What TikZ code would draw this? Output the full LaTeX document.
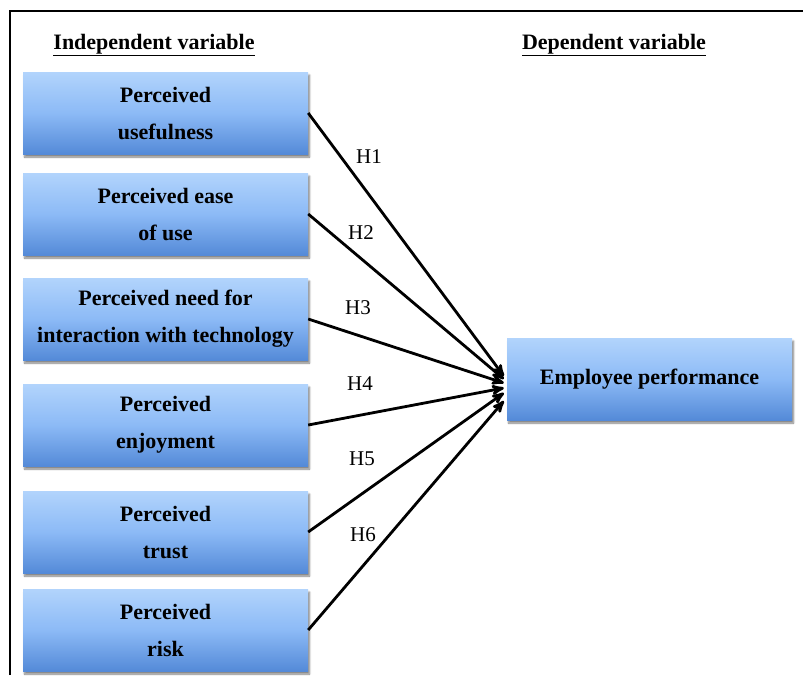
\documentclass[tikz,border=0pt]{standalone}
\usepackage{fontspec}
\setmainfont{Liberation Serif}
\usetikzlibrary{arrows,calc,shadows.blur}
\definecolor{boxtop}{RGB}{178,212,252}
\definecolor{boxmid}{RGB}{140,186,246}
\definecolor{boxbottom}{RGB}{84,138,216}

\begin{document}
\begin{tikzpicture}[x=1pt, y=-1pt, >=stealth']
    \tikzset{var node/.style={rectangle, minimum width=285pt, minimum height=82pt, inner sep=0pt,
        align=center, font=\fontsize{22}{37}\selectfont\bfseries,
        top color=boxtop, bottom color=boxbottom, middle color=boxmid,
        blur shadow={shadow xshift=1.5pt, shadow yshift=-3pt, shadow opacity=50, shadow blur steps=6}}}
    \tikzset{head node/.style={font=\fontsize{22}{26}\selectfont\bfseries}}
    \tikzset{hyp node/.style={font=\fontsize{21}{24}\selectfont}}
    \useasboundingbox (0,0) rectangle (803,675);
    % Frame
    \draw [line width=1.6pt] (10,675) -- (10,11) -- (803,11);

    % Headings
    \node (indep) [head node] at (154,45) {\underline{Independent variable}};
    \node (dep) [head node] at (614,45) {\underline{Dependent variable}};

    % Nodes
    \node (pu) [var node] at (165.5,113) {Perceived\\usefulness};
    \node (peou) [var node] at (165.5,214) {Perceived ease\\of use};
    \node (pnit) [var node] at (165.5,319) {Perceived need for\\interaction with technology};
    \node (pe) [var node] at (165.5,425) {Perceived\\enjoyment};
    \node (pt) [var node] at (165.5,532) {Perceived\\trust};
    \node (pr) [var node] at (165.5,630) {Perceived\\risk};
    \node (emp) [var node] at (649.5,379) {Employee performance};

    % Arrows
    \draw [->, line width=2.8pt] (pu.east) -- ($(emp.west)+(-3,-3)$);
    \draw [->, line width=2.8pt] (peou.east) -- ($(emp.west)+(-3,0)$);
    \draw [->, line width=2.8pt] (pnit.east) -- ($(emp.west)+(-3,4)$);
    \draw [->, line width=2.8pt] (pe.east) -- ($(emp.west)+(-3,9)$);
    \draw [->, line width=2.8pt] (pt.east) -- ($(emp.west)+(-3,14)$);
    \draw [->, line width=2.8pt] (pr.east) -- ($(emp.west)+(-3,22)$);

    % Hypotheses
    \node (h1) [hyp node] at (369,157) {H1};
    \node (h2) [hyp node] at (361,233) {H2};
    \node (h3) [hyp node] at (358,308) {H3};
    \node (h4) [hyp node] at (360,384) {H4};
    \node (h5) [hyp node] at (362,459) {H5};
    \node (h6) [hyp node] at (363,535) {H6};
\end{tikzpicture}
\end{document}
